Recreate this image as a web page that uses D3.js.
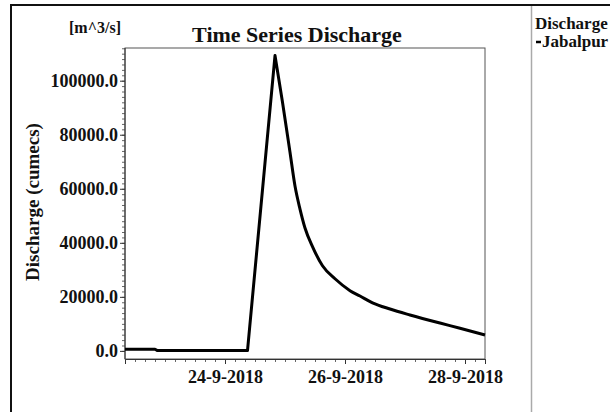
<!DOCTYPE html>
<html>
<head>
<meta charset="utf-8">
<script src="https://cdn.jsdelivr.net/npm/d3@7"></script>
<style>
  html, body { margin: 0; padding: 0; background: #fff; }
  svg { display: block; font-family: "Liberation Serif", "Times New Roman", serif; font-weight: bold; }
</style>
</head>
<body>
<svg id="chart" width="610" height="412"></svg>
<script>
// Discharge hydrograph at Jabalpur, September 2018 (m^3/s)
const times = [
  "2018-09-22T08:00", "2018-09-22T20:00", "2018-09-22T21:00", "2018-09-24T09:00",
  "2018-09-24T20:00", "2018-09-24T23:00", "2018-09-25T02:00", "2018-09-25T04:00",
  "2018-09-25T06:00", "2018-09-25T08:00", "2018-09-25T11:00", "2018-09-25T15:00",
  "2018-09-25T20:00", "2018-09-26T02:00", "2018-09-26T06:00", "2018-09-26T11:00",
  "2018-09-26T18:00", "2018-09-27T02:00", "2018-09-27T14:00", "2018-09-27T22:00",
  "2018-09-28T08:00"
];
const discharge = [
  600, 600, 100, 100,
  109300, 92000, 73500, 61000,
  52500, 45500, 38600, 31500,
  26700, 22300, 20300, 17800,
  15500, 13300, 10300, 8400,
  5900
];
const seriesName = "Jabalpur";
const legendTitle = "Discharge";
const chartTitle = "Time Series Discharge";
const yAxisTitle = "Discharge (cumecs)";
const unitLabel = "[m^3/s]";
const yTicks = [0, 20000, 40000, 60000, 80000, 100000];
const xTickDates = ["2018-09-24T00:00", "2018-09-26T00:00", "2018-09-28T00:00"];
const xDomain = ["2018-09-22T08:00", "2018-09-28T08:00"];
const yDomain = [-3000, 112100];

const parse = d3.timeParse("%Y-%m-%dT%H:%M");
const data = times.map((t, i) => ({ t: parse(t), v: discharge[i] }));

const svg = d3.select("#chart");
const plot = { left: 125, top: 48, right: 485, bottom: 359 };

// outer frame and legend separator
svg.append("path")
  .attr("d", "M11,412 V5 H610")
  .attr("fill", "none").attr("stroke", "#111").attr("stroke-width", 2);
svg.append("line")
  .attr("x1", 531.5).attr("x2", 531.5).attr("y1", 6).attr("y2", 412)
  .attr("stroke", "#aaa").attr("stroke-width", 1.5);

const x = d3.scaleTime().domain(xDomain.map(parse)).range([plot.left, plot.right]);
const y = d3.scaleLinear().domain(yDomain).range([plot.bottom, plot.top]);

// plot box
svg.append("rect")
  .attr("x", plot.left).attr("y", plot.top)
  .attr("width", plot.right - plot.left).attr("height", plot.bottom - plot.top)
  .attr("fill", "none").attr("stroke", "#555").attr("stroke-width", 1);

const labelStyle = g => g.selectAll("text")
  .attr("fill", "#111")
  .style("font-family", "'Liberation Serif', serif")
  .style("font-weight", "bold")
  .style("font-size", "18px");

// y axis: minor ticks every 2000, labelled major ticks every 20000
const yMinor = d3.range(0, yDomain[1], 2000);
svg.append("g").attr("transform", `translate(${plot.left},0)`)
  .call(d3.axisLeft(y).tickValues(yMinor).tickSize(3).tickFormat(""))
  .call(g => g.select(".domain").remove())
  .call(g => g.selectAll("line").attr("stroke", "#666"));
svg.append("g").attr("transform", `translate(${plot.left},0)`)
  .call(d3.axisLeft(y).tickValues(yTicks).tickSize(5).tickPadding(2).tickFormat(d3.format(".1f")))
  .call(g => g.select(".domain").attr("stroke", "#333").attr("d", `M0,${plot.top}V${plot.bottom}`))
  .call(g => g.selectAll("line").attr("stroke", "#333"))
  .call(labelStyle);

// x axis: minor ticks every 4 hours, labelled ticks every 2 days
svg.append("g").attr("transform", `translate(0,${plot.bottom})`)
  .call(d3.axisBottom(x).ticks(d3.timeHour.every(4)).tickSize(3).tickFormat(""))
  .call(g => g.select(".domain").remove())
  .call(g => g.selectAll("line").attr("stroke", "#666"));
const fmtDate = d => `${d.getDate()}-${d.getMonth() + 1}-${d.getFullYear()}`;
svg.append("g").attr("transform", `translate(0,${plot.bottom})`)
  .call(d3.axisBottom(x).tickValues(xTickDates.map(parse)).tickSize(5).tickPadding(6).tickFormat(fmtDate))
  .call(g => g.select(".domain").attr("stroke", "#333"))
  .call(g => g.selectAll("line").attr("stroke", "#333"))
  .call(labelStyle);

// series line: straight rising limb, smooth recession after the peak
const peak = d3.maxIndex(data, d => d.v);
const linear = d3.line().x(d => x(d.t)).y(d => y(d.v)).curve(d3.curveLinear);
const smooth = d3.line().x(d => x(d.t)).y(d => y(d.v)).curve(d3.curveMonotoneX);
const rising = linear(data.slice(0, peak + 1));
const falling = smooth(data.slice(peak)).replace(/^M[^CLHV]*/, "");
svg.append("path")
  .attr("fill", "none")
  .attr("stroke", "#000")
  .attr("stroke-width", 3)
  .attr("stroke-linejoin", "round")
  .attr("d", rising + falling);

// titles
svg.append("text").attr("x", 297).attr("y", 42).attr("text-anchor", "middle")
  .style("font-size", "22px").attr("fill", "#111").text(chartTitle);
svg.append("text").attr("x", 95).attr("y", 33).attr("text-anchor", "middle")
  .style("font-size", "16px").attr("fill", "#111").text(unitLabel);
svg.append("text")
  .attr("transform", "translate(39,202) rotate(-90)")
  .attr("text-anchor", "middle")
  .style("font-size", "19px").attr("fill", "#111").text(yAxisTitle);

// legend
svg.append("text").attr("x", 535).attr("y", 29)
  .style("font-size", "17px").attr("fill", "#111").text(legendTitle);
svg.append("line").attr("x1", 536).attr("x2", 541).attr("y1", 42).attr("y2", 42)
  .attr("stroke", "#000").attr("stroke-width", 2.5);
svg.append("text").attr("x", 542).attr("y", 47)
  .style("font-size", "17px").attr("fill", "#111").text(seriesName);
</script>
</body>
</html>
